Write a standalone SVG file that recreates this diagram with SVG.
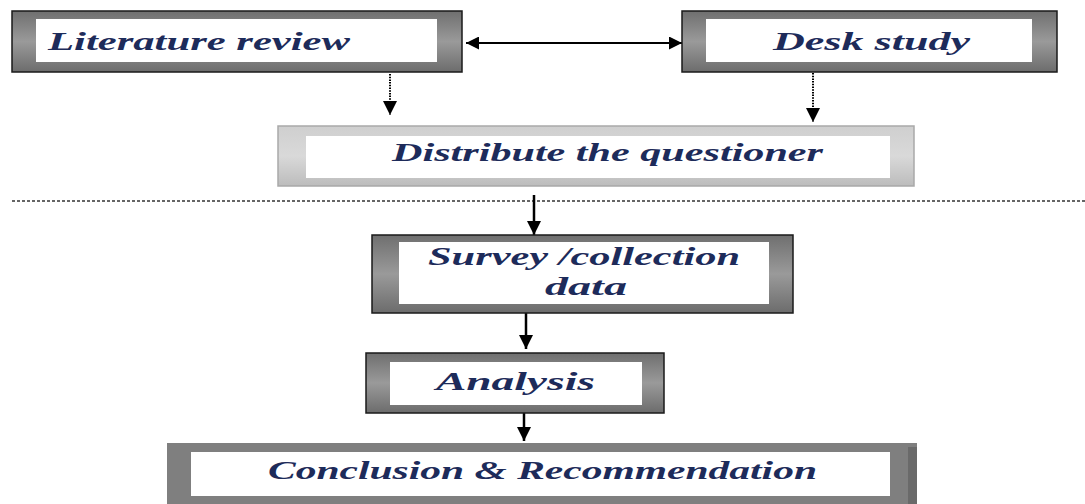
<svg xmlns="http://www.w3.org/2000/svg" width="1085" height="504" viewBox="0 0 1085 504">
<style>
.lbl{font-family:"Liberation Serif","DejaVu Serif",serif;font-style:italic;font-weight:bold;font-size:26px;fill:#1d2b5a;text-anchor:start}
.dark{fill:url(#gDark);stroke:#1a1a1a;stroke-width:1.5}
.light{fill:url(#gLight);stroke:#a9a9a9;stroke-width:1.5}
.flat{fill:#7f7f7f}
.inner{fill:#ffffff}
.solid{stroke:#000;stroke-width:2.5;fill:none}
.dot{stroke:#000;stroke-width:2;stroke-dasharray:1.5 1.2;fill:none}
.sep{stroke:#333;stroke-width:1.3;stroke-dasharray:3 2;fill:none}
</style>
<defs>
<linearGradient id="gDark" x1="0" y1="0" x2="0" y2="1">
<stop offset="0" stop-color="#6f6f6f"/>
<stop offset="0.5" stop-color="#9a9a9a"/>
<stop offset="1" stop-color="#6c6c6c"/>
</linearGradient>
<linearGradient id="gLight" x1="0" y1="0" x2="0" y2="1">
<stop offset="0" stop-color="#cfcfcf"/>
<stop offset="0.5" stop-color="#d9d9d9"/>
<stop offset="1" stop-color="#bcbcbc"/>
</linearGradient>
<marker id="arr" viewBox="0 0 10 10" refX="10" refY="5" markerWidth="14" markerHeight="15" markerUnits="userSpaceOnUse" orient="auto-start-reverse">
<path d="M0,0 L10,5 L0,10 z" fill="#000"/>
</marker>
<marker id="arrH" viewBox="0 0 10 10" refX="10" refY="5" markerWidth="22" markerHeight="13" markerUnits="userSpaceOnUse" orient="auto-start-reverse">
<path d="M0,0 L10,5 L0,10 z" fill="#000"/>
</marker>
</defs>

<g id="connectors">
<line class="solid" x1="466" y1="43" x2="682" y2="43" marker-start="url(#arrH)" marker-end="url(#arrH)" style="stroke-width:2"/>
<line class="dot" x1="390" y1="74" x2="390" y2="115" marker-end="url(#arr)"/>
<line class="dot" x1="813" y1="73" x2="813" y2="122" marker-end="url(#arr)"/>
<line class="sep" x1="12" y1="201" x2="1085" y2="201"/>
<line class="solid" x1="534" y1="195" x2="534" y2="235" marker-end="url(#arr)"/>
<line class="solid" x1="526" y1="313" x2="526" y2="349" marker-end="url(#arr)"/>
<line class="solid" x1="524" y1="402" x2="524" y2="441" marker-end="url(#arr)"/>
</g>

<g id="literature-review">
<rect class="dark" x="12" y="11" width="450" height="61"/>
<rect class="inner" x="36" y="19" width="401" height="43"/>
<text class="lbl" x="48" y="50" textLength="302" lengthAdjust="spacingAndGlyphs">Literature review</text>
</g>

<g id="desk-study">
<rect class="dark" x="682" y="11" width="375" height="61"/>
<rect class="inner" x="706" y="19" width="326" height="43"/>
<text class="lbl" x="773" y="50" textLength="197" lengthAdjust="spacingAndGlyphs">Desk study</text>
</g>

<g id="distribute">
<rect class="light" x="278" y="126" width="636" height="60"/>
<rect class="inner" x="306" y="136" width="584" height="42"/>
<text class="lbl" x="392" y="161" textLength="431" lengthAdjust="spacingAndGlyphs">Distribute the questioner</text>
</g>

<g id="survey">
<rect class="dark" x="372" y="235" width="421" height="78"/>
<rect class="inner" x="399" y="242" width="370" height="62"/>
<text class="lbl" x="428" y="265" textLength="312" lengthAdjust="spacingAndGlyphs">Survey /collection</text>
<text class="lbl" x="545" y="295" textLength="82" lengthAdjust="spacingAndGlyphs">data</text>
</g>

<g id="analysis">
<rect class="dark" x="366" y="353" width="298" height="60"/>
<rect class="inner" x="390" y="362" width="252" height="43"/>
<text class="lbl" x="436" y="390" textLength="159" lengthAdjust="spacingAndGlyphs">Analysis</text>
</g>

<g id="conclusion">
<rect class="flat" x="167" y="443" width="750" height="65"/>
<rect x="908" y="447" width="9" height="61" fill="#6a6a6a"/>
<rect class="inner" x="191" y="452" width="699" height="44"/>
<text class="lbl" x="268" y="479" textLength="549" lengthAdjust="spacingAndGlyphs">Conclusion &amp; Recommendation</text>
</g>
</svg>
